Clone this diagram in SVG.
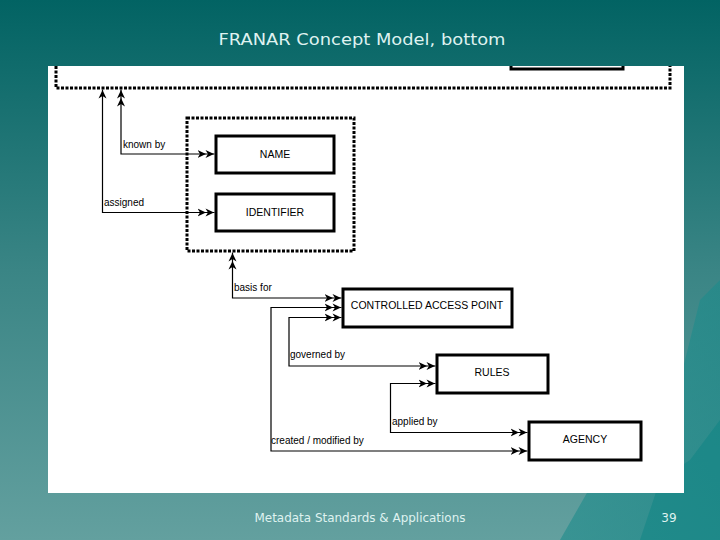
<svg xmlns="http://www.w3.org/2000/svg" width="720" height="540" viewBox="0 0 720 540">
<defs>
<linearGradient id="bg" x1="0" y1="0" x2="0" y2="1">
<stop offset="0" stop-color="#026363"/>
<stop offset="0.5" stop-color="#3a8585"/>
<stop offset="1" stop-color="#63a09f"/>
</linearGradient>
<linearGradient id="berg" x1="0" y1="0" x2="1" y2="1">
<stop offset="0" stop-color="#2a9494"/>
<stop offset="1" stop-color="#0f8282"/>
</linearGradient>
<marker id="dbl" markerUnits="userSpaceOnUse" markerWidth="18" markerHeight="10" viewBox="0 -5 18 10" refX="17" refY="0" orient="auto-start-reverse">
<path d="M0,-4 L8.5,0 L0,4 L2.5,0 Z M8,-4 L16.5,0 L8,4 L10.5,0 Z" fill="#000"/>
</marker>
<marker id="sgl" markerUnits="userSpaceOnUse" markerWidth="10" markerHeight="10" viewBox="0 -5 10 10" refX="9" refY="0" orient="auto-start-reverse">
<path d="M0,-4 L8.5,0 L0,4 L2.5,0 Z" fill="#000"/>
</marker>
</defs>
<style>
.box{fill:#fff;stroke:#000;stroke-width:3}
.dash{fill:none;stroke:#000;stroke-width:3;stroke-dasharray:3,1.5}
.ln{fill:none;stroke:#000;stroke-width:1.2}
.lbl{font-family:"Liberation Sans",Arial,sans-serif;font-size:10px;fill:#000}
.nm{font-family:"Liberation Sans",Arial,sans-serif;font-size:10.5px;fill:#000;text-anchor:middle}
.slide{font-family:"DejaVu Sans",Verdana,sans-serif;fill:#dff2f0}
</style>
<rect x="0" y="0" width="720" height="540" fill="url(#bg)"/>
<polygon points="560,540 600,470 630,450 650,400 680,380 700,300 720,280 720,540" fill="url(#berg)" opacity="0.6"/>
<polygon points="640,540 660,480 690,460 720,420 720,540" fill="#0c8484" opacity="0.5"/>
<text class="slide" x="362" y="45" font-size="16" textLength="287" lengthAdjust="spacingAndGlyphs" text-anchor="middle">FRANAR Concept Model, bottom</text>
<text class="slide" x="360" y="522" font-size="12" textLength="211" lengthAdjust="spacingAndGlyphs" text-anchor="middle">Metadata Standards &amp; Applications</text>
<text class="slide" x="669" y="522" font-size="12" text-anchor="middle">39</text>
<rect x="48" y="66" width="636" height="427" fill="#fff"/>
<g id="outer-entity">
<path class="dash" d="M56,66 V88 H670 V66"/>
<path d="M511,66 V69 H623 V66" fill="none" stroke="#000" stroke-width="3"/>
</g>
<g id="name-group">
<rect class="dash" x="187" y="118" width="167" height="133"/>
</g>
<g id="name">
<rect class="box" x="216" y="136" width="118" height="37"/>
<text class="nm" x="275" y="158">NAME</text>
</g>
<g id="identifier">
<rect class="box" x="216" y="194" width="118" height="37"/>
<text class="nm" x="275" y="216">IDENTIFIER</text>
</g>
<g id="cap">
<rect class="box" x="343" y="289" width="169" height="38"/>
<text class="nm" x="427" y="309">CONTROLLED ACCESS POINT</text>
</g>
<g id="rules">
<rect class="box" x="437" y="355" width="111" height="38"/>
<text class="nm" x="492" y="376">RULES</text>
</g>
<g id="agency">
<rect class="box" x="529" y="422" width="112" height="38"/>
<text class="nm" x="585" y="443">AGENCY</text>
</g>
<g id="connectors">
<path class="ln" d="M121,89.5 V154 H214.5" marker-start="url(#dbl)" marker-end="url(#dbl)"/>
<path class="ln" d="M102.5,89.5 V212.5 H214.5" marker-start="url(#sgl)" marker-end="url(#dbl)"/>
<path class="ln" d="M232.5,252.5 V298 H341.5" marker-start="url(#dbl)" marker-end="url(#dbl)"/>
<path class="ln" d="M341.5,307.5 H271 V451 H527.5" marker-start="url(#dbl)" marker-end="url(#dbl)"/>
<path class="ln" d="M341.5,317.5 H289 V366 H435.5" marker-start="url(#dbl)" marker-end="url(#dbl)"/>
<path class="ln" d="M435.5,383.5 H390.5 V432.5 H527.5" marker-start="url(#dbl)" marker-end="url(#dbl)"/>
<text class="lbl" x="123" y="148">known by</text>
<text class="lbl" x="104" y="206">assigned</text>
<text class="lbl" x="234" y="291">basis for</text>
<text class="lbl" x="290" y="358">governed by</text>
<text class="lbl" x="392" y="425">applied by</text>
<text class="lbl" x="271" y="444">created / modified by</text>
</g>
</svg>
